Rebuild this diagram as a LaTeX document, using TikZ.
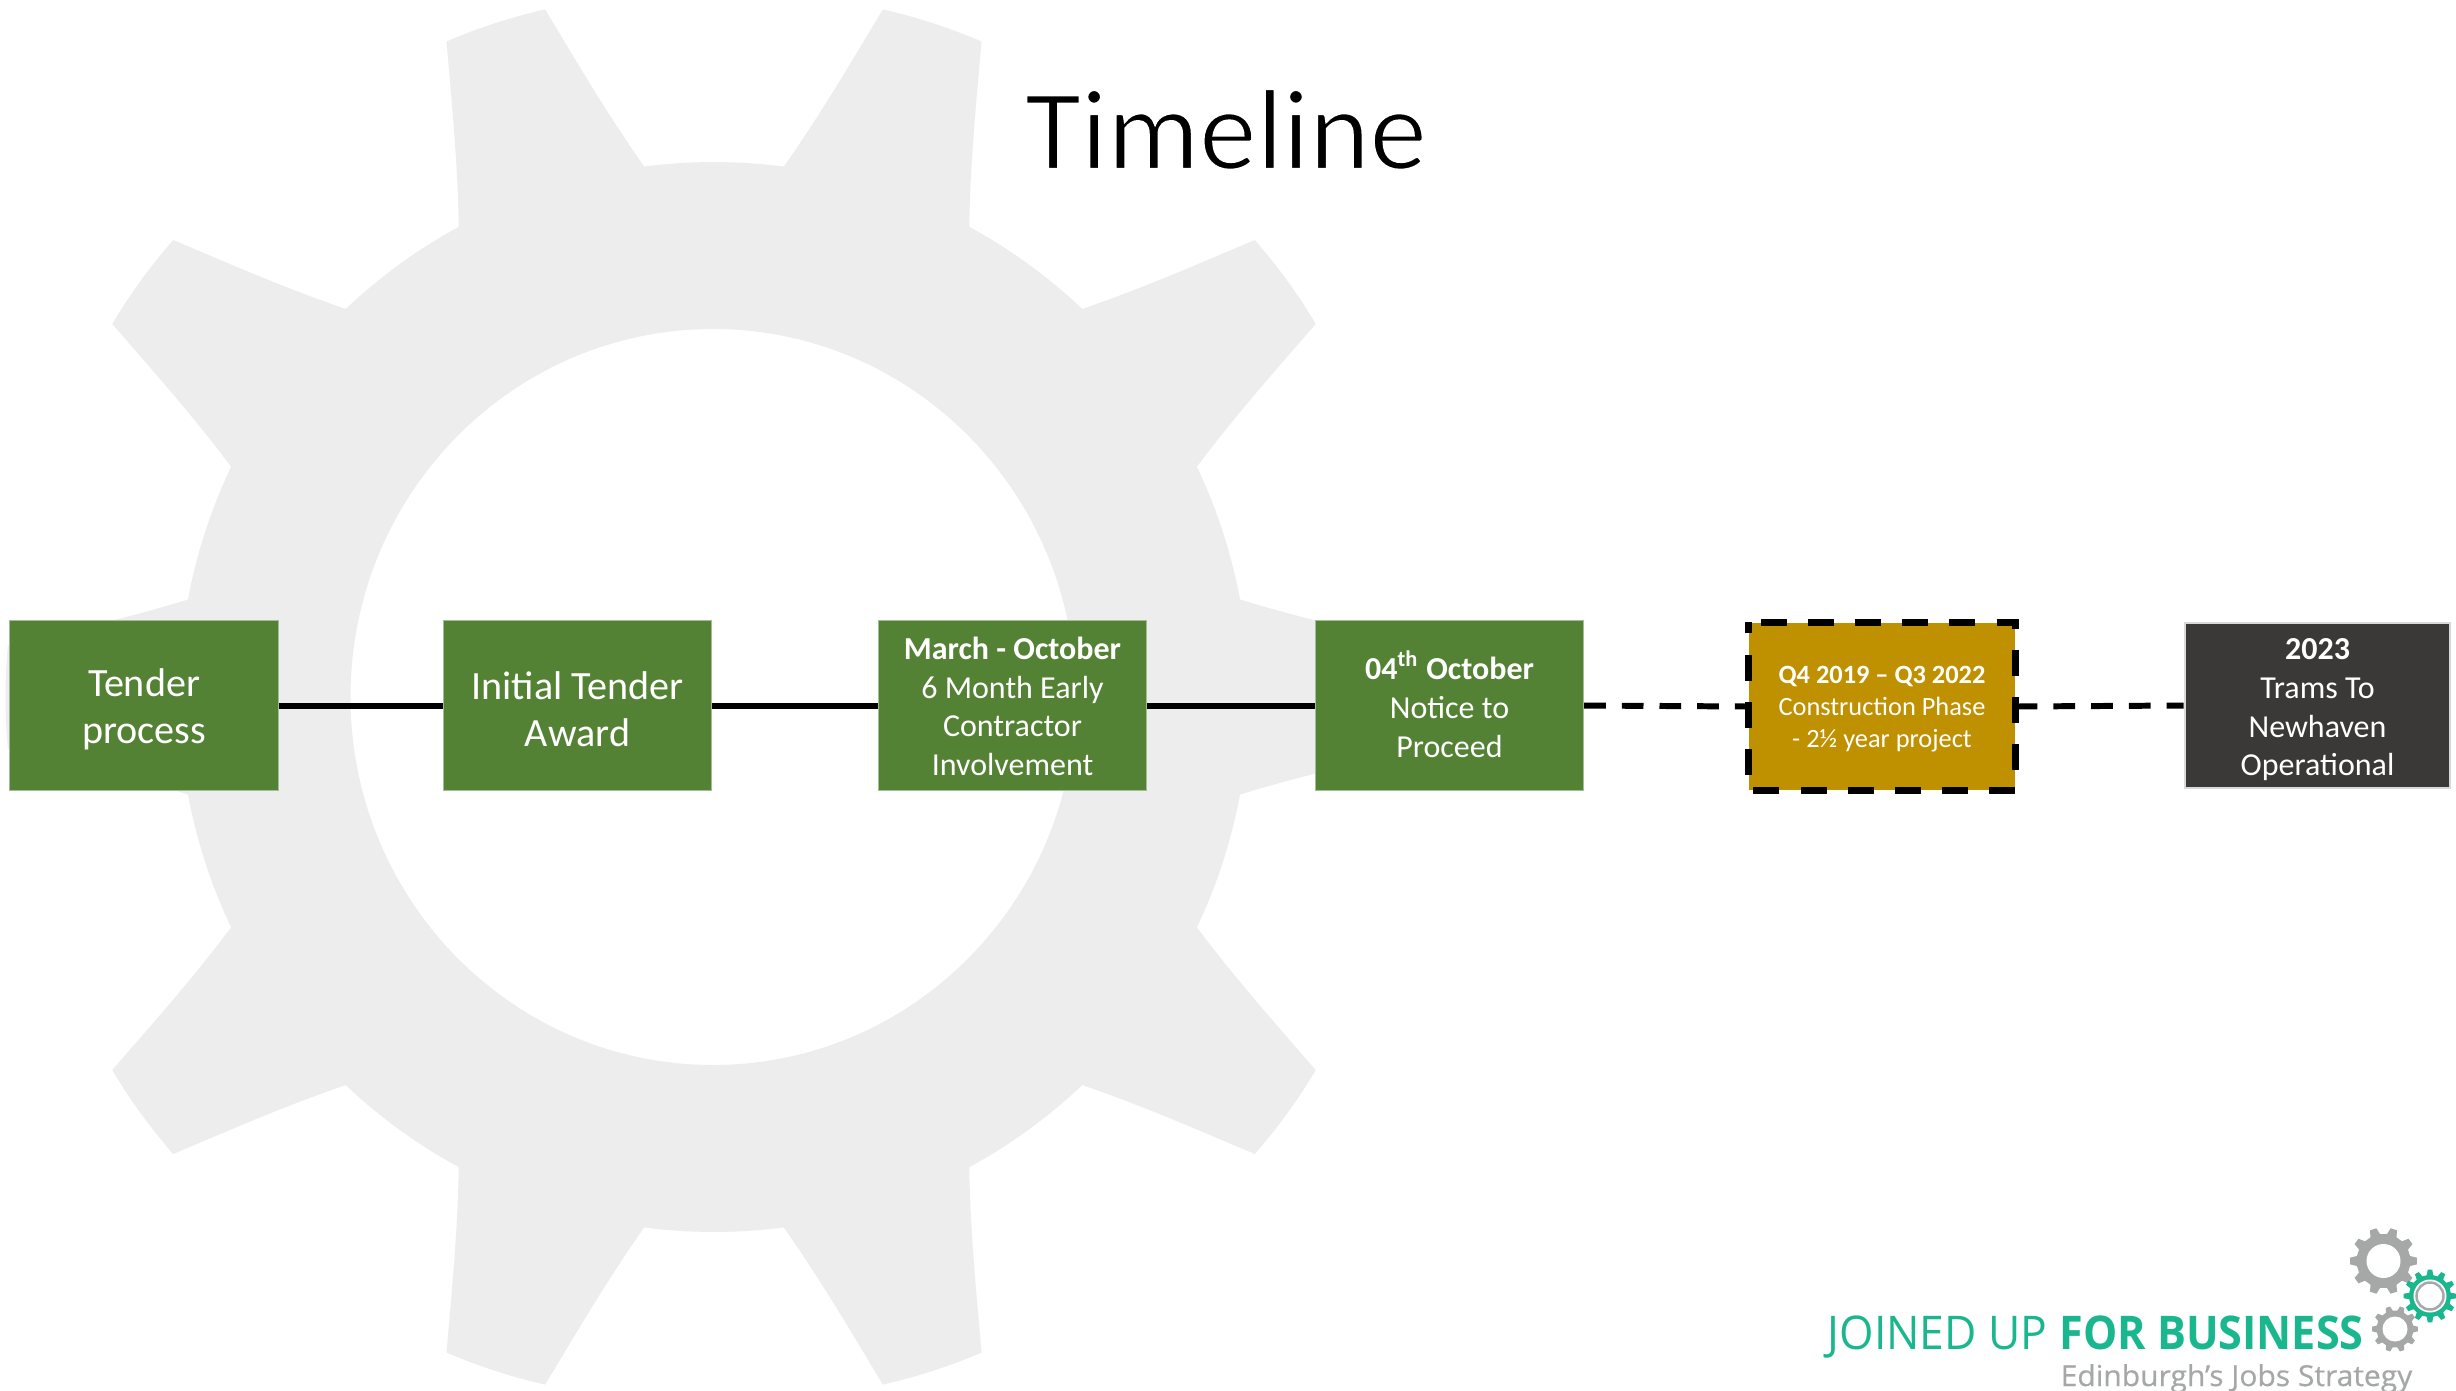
\documentclass[tikz,border=0pt]{standalone}
\usepackage{fontspec}
\setmainfont{Carlito}
\newfontfamily\opensans{Open Sans}
\definecolor{gearbg}{HTML}{EDEDED}
\definecolor{boxgreen}{HTML}{548235}
\definecolor{boxedge}{HTML}{A5BD95}
\definecolor{boxgold}{HTML}{BF9000}
\definecolor{boxdark}{HTML}{3B3838}
\definecolor{logoteal}{HTML}{1AB78F}
\definecolor{logogrey}{HTML}{A6A8A8}
\newcommand{\sz}[2]{\fontsize{#1}{#2}\selectfont}
\newcommand{\pxu}{*0.2845pt}
\newcommand{\tall}[1]{\rule{0pt}{#1}}
\newcommand{\deep}[1]{\rule[-#1]{0pt}{0pt}}
\tikzset{
  tlbox/.style={rectangle,minimum width=268\pxu,minimum height=169\pxu,inner sep=0pt,align=center,text=white},
  greenbox/.style={tlbox,fill=boxgreen,draw=boxedge,line width=0.3pt},
  largetext/.style={font=\sz{11.4}{13.3}},
  midtext/.style={font=\sz{9.1}{11}},
  smalltext/.style={font=\sz{7.5}{9.1}},
  solidlink/.style={line width=1.7pt,black},
  dashlink/.style={line width=1.7pt,black,dash pattern=on 6.17pt off 4.55pt},
}
% logo gear: cx, cy, tip radius, root radius, teeth, colour
\newcommand{\logogear}[6]{%
  \begin{scope}[shift={(#1,#2)}]
    \pgfmathsetmacro{\stepang}{360/#5}
    \pgfmathsetmacro{\lastang}{360-\stepang}
    \pgfmathsetmacro{\nextang}{\stepang}
    \fill[#6] (-0.3*\stepang:#4)
      foreach \a in {0,\nextang,...,\lastang}{
        -- ({\a-0.16*\stepang}:#3) -- ({\a+0.16*\stepang}:#3) -- ({\a+0.3*\stepang}:#4)
        -- ({\a+0.7*\stepang}:#4)
      } -- cycle;
  \end{scope}}
\begin{document}
\begin{tikzpicture}[x=0.01cm,y=-0.01cm]
\clip (0,0) rectangle (2456,1390);
\fill[white] (0,0) rectangle (2456,1390);
% big background gear
\begin{scope}[shift={(714,697)}]
\fill[gearbg,even odd rule] (-10.5:535)
  foreach \a in {0,36,...,324}{
    .. controls ({\a-7.6}:593) and ({\a-5.8}:650) .. ({\a-4.2}:708)
    .. controls ({\a-1.4}:709.5) and ({\a+1.4}:709.5) .. ({\a+4.2}:708)
    .. controls ({\a+5.8}:650) and ({\a+7.6}:593) .. ({\a+10.5}:535)
    .. controls ({\a+15.5}:537) and ({\a+20.5}:537) .. ({\a+25.5}:535)
  } -- cycle
  (-1,0) ellipse [x radius=362.5,y radius=368];
\end{scope}
% title: a white outline thins the strokes to a light weight
\node[font=\sz{32.7}{40},anchor=base] (title) at (1226,169) {\special{pdf:code q 2 Tr 0.6 w 1 1 1 RG}Timeline\special{pdf:code Q}};
% timeline boxes
\node[greenbox,largetext] (tender) at (144,705.5) {\tall{10pt}Tender\\process};
\node[greenbox,largetext] (award) at (577.5,705.5) {\tall{10pt}Initial Tender\\Award};
\node[greenbox,midtext] (eci) at (1012.5,705.5) {\tall{6.8pt}\textbf{March - October}\\6 Month Early\\Contractor\\Involvement};
\node[greenbox,midtext] (ntp) at (1449.5,705.5) {\textbf{04\textsuperscript{th} October}\\Notice to\\Proceed\deep{0.9pt}};
\node[tlbox,smalltext,minimum width=266\pxu,minimum height=167\pxu,fill=boxgold] (build) at (1882,706.5) {\tall{6.4pt}\textbf{Q4 2019 – Q3 2022}\\Construction Phase\\- 2½ year project};
\node[tlbox,midtext,minimum width=265\pxu,minimum height=165\pxu,fill=boxdark,draw=black!15,line width=0.8pt] (open) at (2317.5,705.5) {\tall{8.4pt}\textbf{2023}\\Trams To\\Newhaven\\Operational};
\draw[line width=1.9pt,black,dash pattern=on 7.4pt off 6pt,dash phase=9.8pt]
  (build.north west) -- (build.north east) -- (build.south east) -- (build.south west) -- cycle;
% connectors
\draw[solidlink] (tender) -- (award);
\draw[solidlink] (award) -- (eci);
\draw[solidlink] (eci) -- (ntp);
\draw[dashlink] (ntp.east) -- (build.west);
\draw[dashlink] (build.east) -- (open.west);
% logo
\logogear{2383.5}{1261}{33.5}{27}{10}{logogrey}
\fill[white] (2383.5,1261) circle [radius=17];
\logogear{2430}{1296}{26.5}{21}{12}{logoteal}
\fill[white] (2430,1296) circle [radius=16.5];
\draw[logogrey,line width=0.7pt] (2430,1296) circle [radius=13.5];
\logogear{2395}{1329}{23}{18.5}{10}{logogrey}
\fill[white] (2395,1329) circle [radius=12.5];
\node[anchor=base west,inner sep=0pt,text=logoteal,font={\opensans\fontsize{13.2}{16}\selectfont}] (joined) at (1827,1349) {\scalebox{0.955}[1]{JOINED UP} \scalebox{0.93}[1]{\textbf{FOR BUSINESS}}};
\node[anchor=base west,inner sep=0pt,text=logogrey,font={\opensans\fontsize{8.2}{10}\selectfont\addfontfeature{FakeBold=0.5}}] (strategy) at (2060,1386) {\scalebox{1.04}[1]{Edinburgh’s Jobs Strategy}};
\end{tikzpicture}
\end{document}
